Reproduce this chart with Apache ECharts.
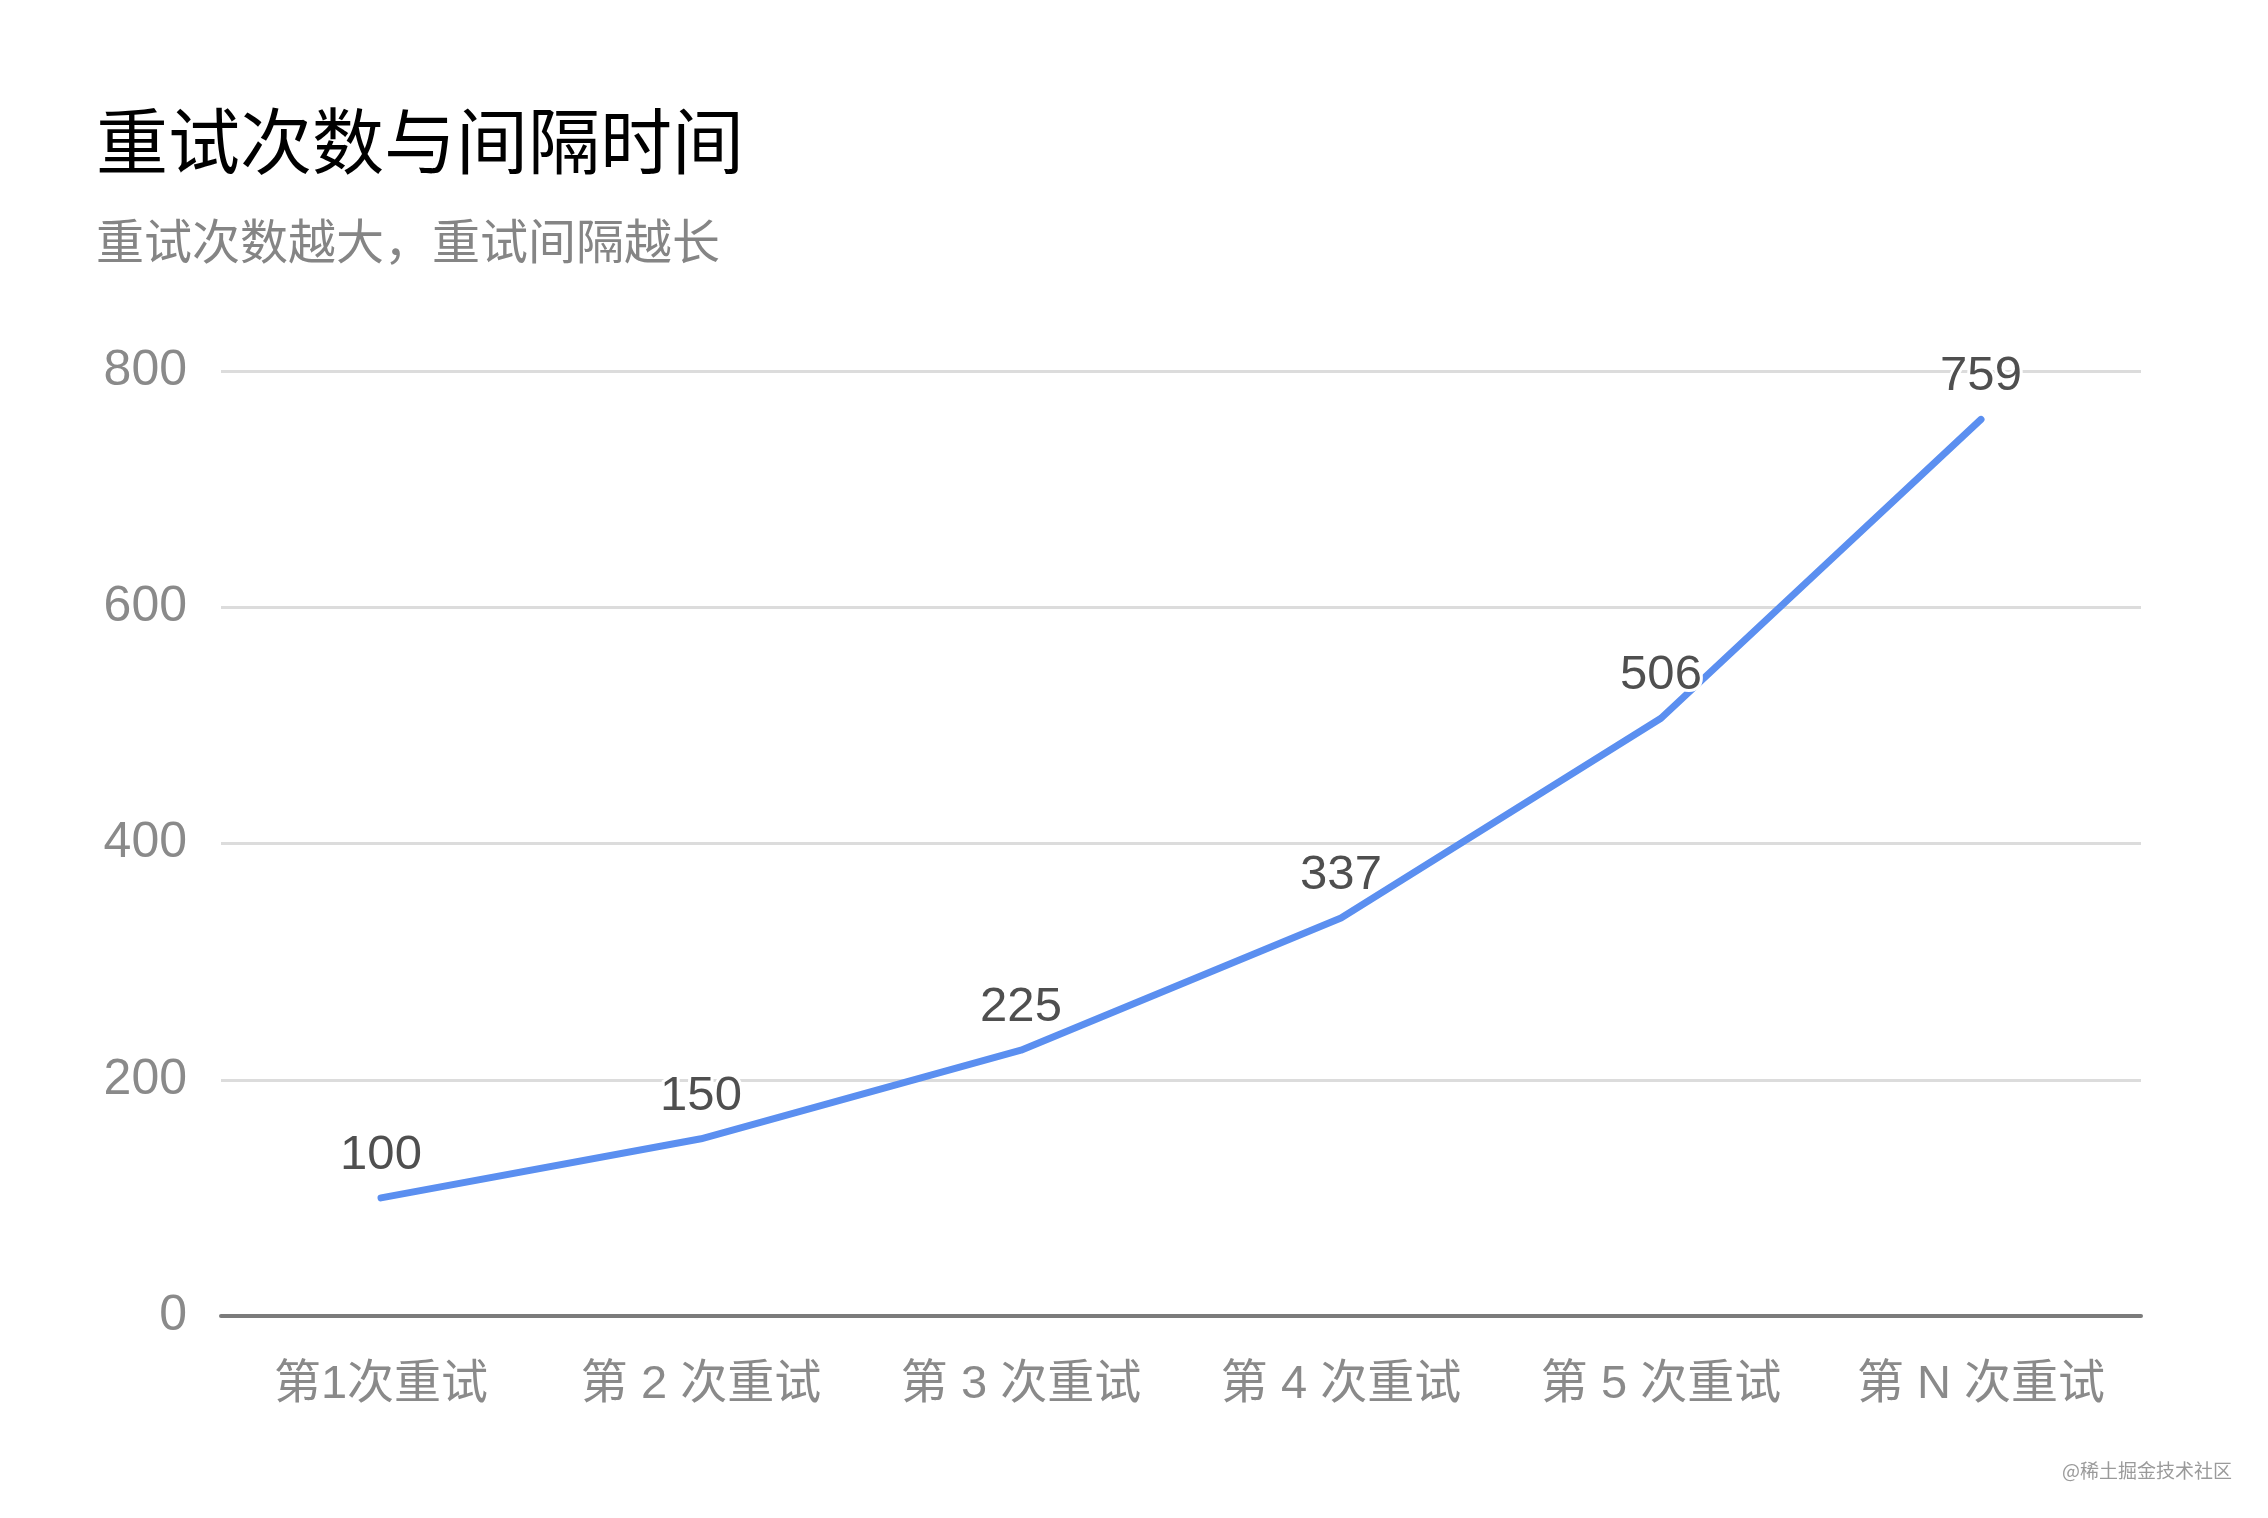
<!DOCTYPE html>
<html>
<head>
<meta charset="utf-8">
<script src="https://cdn.jsdelivr.net/npm/echarts@6/dist/echarts.min.js"></script>
<style>
  html, body { margin: 0; padding: 0; background: #fff; }
  #chart { width: 2268px; height: 1518px; }
</style>
</head>
<body>
<div id="chart"></div>
<script>
// data
const categories = ['第1次重试', '第 2 次重试', '第 3 次重试', '第 4 次重试', '第 5 次重试', '第 N 次重试'];
const intervals = [100, 150, 225, 337, 506, 759];
const yTicks = { min: 0, max: 800, step: 200 };

const font = '"Noto Sans CJK SC", "Noto Sans", sans-serif';
// latin digits look like Helvetica in the picture, CJK falls back
const numFont = '"Liberation Sans", "Noto Sans CJK SC", sans-serif';

let myChart = echarts.init(document.getElementById('chart'));

option = {
    backgroundColor: '#fff',
    title: {
        text: '重试次数与间隔时间',
        subtext: '重试次数越大，重试间隔越长',
        left: 91,
        top: 100,
        itemGap: 40,
        textStyle: {
            fontFamily: font,
            fontSize: 72,
            fontWeight: 'normal',
            color: '#000'
        },
        subtextStyle: {
            fontFamily: font,
            fontSize: 48,
            color: '#858585'
        }
    },
    grid: {
        left: 221,
        right: 127,
        top: 371,
        bottom: 202
    },
    xAxis: {
        type: 'category',
        data: categories,
        axisLine: { lineStyle: { color: '#7b7b7b', width: 4 } },
        axisTick: { alignWithLabel: true, interval: 0, length: 16, lineStyle: { color: '#888', width: 2 } },
        axisLabel: {
            interval: 0,
            margin: 46,
            fontFamily: numFont,
            fontSize: 47,
            color: '#8a8a8a'
        }
    },
    yAxis: {
        type: 'value',
        min: yTicks.min,
        max: yTicks.max,
        interval: yTicks.step,
        axisLine: { show: false },
        axisTick: { show: false },
        axisLabel: {
            margin: 34,
            padding: [12, 0, 0, 0],
            fontFamily: numFont,
            fontSize: 50,
            color: '#8a8a8a'
        },
        splitLine: { lineStyle: { color: '#dcdcdc', width: 3 } }
    },
    series: [
        {
            type: 'line',
            data: intervals,
            showSymbol: true,
            symbol: 'circle',
            symbolSize: 0.1,
            itemStyle: { color: '#5b8ff0' },
            lineStyle: { color: '#5b8ff0', width: 7, cap: 'round' },
            label: {
                show: true,
                position: 'top',
                distance: 18,
                fontFamily: numFont,
                fontSize: 49,
                color: '#4f4f4f',
                textBorderColor: '#fff',
                textBorderWidth: 6
            },
            animation: false
        }
    ],
    graphic: [
        {
            type: 'text',
            right: 36,
            bottom: 38,
            style: {
                text: '@稀土掘金技术社区',
                fontFamily: font,
                fontSize: 19,
                fill: '#9a9a9a'
            }
        }
    ]
};
myChart.setOption(option);
</script>
</body>
</html>
